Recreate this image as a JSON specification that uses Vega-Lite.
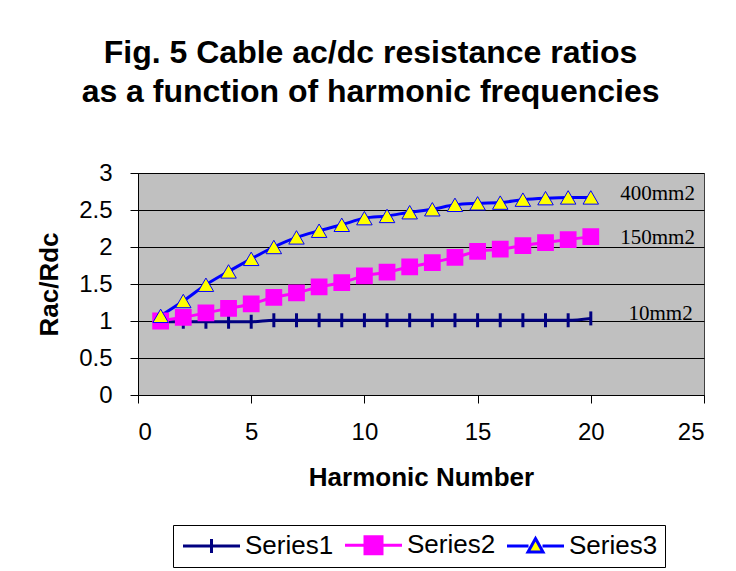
{
  "$schema": "https://vega.github.io/schema/vega-lite/v6.json",
  "autosize": "none",
  "width": 566,
  "height": 222,
  "padding": {"left": 138, "top": 173, "right": 32, "bottom": 176},
  "background": "white",
  "title": {
    "text": ["Fig. 5 Cable ac/dc resistance ratios", "as a function of harmonic frequencies"],
    "font": "Liberation Sans",
    "fontSize": 32,
    "fontWeight": "bold",
    "lineHeight": 39,
    "color": "black",
    "anchor": "middle",
    "frame": "bounds",
    "offset": 52
  },
  "datasets": {
    "series": [
      {"series": "Series1", "x": 1, "y": 0.99}, {"series": "Series1", "x": 2, "y": 0.99}, {"series": "Series1", "x": 3, "y": 0.99}, {"series": "Series1", "x": 4, "y": 0.99}, {"series": "Series1", "x": 5, "y": 0.99},
      {"series": "Series1", "x": 6, "y": 1.01}, {"series": "Series1", "x": 7, "y": 1.01}, {"series": "Series1", "x": 8, "y": 1.01}, {"series": "Series1", "x": 9, "y": 1.01}, {"series": "Series1", "x": 10, "y": 1.01},
      {"series": "Series1", "x": 11, "y": 1.01}, {"series": "Series1", "x": 12, "y": 1.01}, {"series": "Series1", "x": 13, "y": 1.01}, {"series": "Series1", "x": 14, "y": 1.01}, {"series": "Series1", "x": 15, "y": 1.01},
      {"series": "Series1", "x": 16, "y": 1.01}, {"series": "Series1", "x": 17, "y": 1.01}, {"series": "Series1", "x": 18, "y": 1.01}, {"series": "Series1", "x": 19, "y": 1.01}, {"series": "Series1", "x": 20, "y": 1.035},
      {"series": "Series2", "x": 1, "y": 1.0}, {"series": "Series2", "x": 2, "y": 1.05}, {"series": "Series2", "x": 3, "y": 1.11}, {"series": "Series2", "x": 4, "y": 1.17}, {"series": "Series2", "x": 5, "y": 1.23},
      {"series": "Series2", "x": 6, "y": 1.32}, {"series": "Series2", "x": 7, "y": 1.38}, {"series": "Series2", "x": 8, "y": 1.46}, {"series": "Series2", "x": 9, "y": 1.52}, {"series": "Series2", "x": 10, "y": 1.61},
      {"series": "Series2", "x": 11, "y": 1.66}, {"series": "Series2", "x": 12, "y": 1.73}, {"series": "Series2", "x": 13, "y": 1.79}, {"series": "Series2", "x": 14, "y": 1.86}, {"series": "Series2", "x": 15, "y": 1.94},
      {"series": "Series2", "x": 16, "y": 1.97}, {"series": "Series2", "x": 17, "y": 2.02}, {"series": "Series2", "x": 18, "y": 2.06}, {"series": "Series2", "x": 19, "y": 2.10}, {"series": "Series2", "x": 20, "y": 2.14},
      {"series": "Series3", "x": 1, "y": 1.07}, {"series": "Series3", "x": 2, "y": 1.27}, {"series": "Series3", "x": 3, "y": 1.49}, {"series": "Series3", "x": 4, "y": 1.67}, {"series": "Series3", "x": 5, "y": 1.84},
      {"series": "Series3", "x": 6, "y": 2.0}, {"series": "Series3", "x": 7, "y": 2.13}, {"series": "Series3", "x": 8, "y": 2.22}, {"series": "Series3", "x": 9, "y": 2.30}, {"series": "Series3", "x": 10, "y": 2.39},
      {"series": "Series3", "x": 11, "y": 2.42}, {"series": "Series3", "x": 12, "y": 2.47}, {"series": "Series3", "x": 13, "y": 2.51}, {"series": "Series3", "x": 14, "y": 2.57}, {"series": "Series3", "x": 15, "y": 2.59},
      {"series": "Series3", "x": 16, "y": 2.60}, {"series": "Series3", "x": 17, "y": 2.64}, {"series": "Series3", "x": 18, "y": 2.66}, {"series": "Series3", "x": 19, "y": 2.67}, {"series": "Series3", "x": 20, "y": 2.67}
    ],
    "labels": [
      {"label": "400mm2", "x": 24.6, "y": 2.72},
      {"label": "150mm2", "x": 24.6, "y": 2.12},
      {"label": "10mm2", "x": 24.5, "y": 1.09}
    ]
  },
  "config": {
    "view": {"fill": "#C0C0C0", "stroke": "#404040", "strokeWidth": 1},
    "axis": {
      "labelFont": "Liberation Sans",
      "labelFontSize": 24,
      "labelColor": "black",
      "labelOverlap": false,
      "titleFont": "Liberation Sans",
      "titleFontSize": 26,
      "titleFontWeight": "bold",
      "titleColor": "black",
      "domainColor": "black",
      "domainWidth": 1,
      "tickColor": "black",
      "tickWidth": 1,
      "tickSize": 8
    }
  },
  "encoding": {
    "x": {
      "field": "x", "type": "quantitative",
      "scale": {"domain": [0, 25], "nice": false, "zero": false},
      "axis": {"values": [0, 5, 10, 15, 20, 25], "format": "~g", "grid": false, "title": "Harmonic Number", "labelPadding": 17, "titlePadding": 20}
    },
    "y": {
      "field": "y", "type": "quantitative",
      "scale": {"domain": [0, 3], "nice": false},
      "axis": {"values": [0, 0.5, 1, 1.5, 2, 2.5, 3], "format": "~g", "grid": true, "gridColor": "black", "gridWidth": 1, "gridOpacity": 1, "title": "Rac/Rdc", "labelPadding": 18, "titlePadding": 16}
    }
  },
  "resolve": {"scale": {"shape": "independent", "fill": "independent", "stroke": "independent"}},
  "layer": [
    {
      "data": {"name": "series"},
      "mark": {"type": "line", "strokeWidth": 3, "interpolate": "monotone"},
      "encoding": {
        "color": {
          "field": "series", "type": "nominal",
          "scale": {"domain": ["Series1", "Series2", "Series3"], "range": ["#000080", "#FF00FF", "#0000FF"]},
          "legend": null
        }
      }
    },
    {
      "data": {"name": "series"},
      "mark": {"type": "point", "filled": false, "opacity": 1, "fillOpacity": 1},
      "encoding": {
        "shape": {
          "field": "series", "type": "nominal",
          "scale": {"domain": ["Series1", "Series2", "Series3"], "range": ["M0,-1V1", "square", "triangle-up"]},
          "legend": null
        },
        "fill": {
          "field": "series", "type": "nominal",
          "scale": {"domain": ["Series1", "Series2", "Series3"], "range": ["#000080", "#FF00FF", "#FFFF00"]},
          "legend": null
        },
        "stroke": {
          "field": "series", "type": "nominal",
          "scale": {"domain": ["Series1", "Series2", "Series3"], "range": ["#000080", "#FF00FF", "#0000FF"]},
          "legend": null
        },
        "size": {
          "field": "series", "type": "nominal",
          "scale": {"domain": ["Series1", "Series2", "Series3"], "range": [196, 240, 200]},
          "legend": null
        },
        "strokeWidth": {
          "field": "series", "type": "nominal",
          "scale": {"domain": ["Series1", "Series2", "Series3"], "range": [3, 1, 2.5]},
          "legend": null
        }
      }
    },
    {
      "data": {"name": "labels"},
      "mark": {"type": "text", "align": "right", "baseline": "middle", "font": "Liberation Serif", "fontSize": 21, "color": "black"},
      "encoding": {
        "text": {"field": "label"}
      }
    },
    {
      "data": {"name": "series"},
      "transform": [{"filter": "datum.x > 100"}],
      "mark": {"type": "point", "filled": true, "opacity": 1, "size": 400, "strokeWidth": 3},
      "encoding": {
        "shape": {
          "field": "series", "type": "nominal",
          "scale": {"domain": ["Series1", "Series2", "Series3"], "range": ["M-1,0H4.7M1.85,-0.7V0.7", "M-1,0H4.7M1,-0.85H2.7V0.85H1Z", "M-1,0H1.15M2.55,0H4.7M1.85,-0.75L2.6,0.6H1.1Z"]},
          "legend": {
            "orient": "none",
            "direction": "horizontal",
            "legendX": 35,
            "legendY": 352,
            "title": null,
            "strokeColor": "black",
            "padding": 7,
            "labelFont": "Liberation Sans",
            "labelFontSize": 26,
            "labelColor": "black",
            "labelOffset": 39,
            "columnPadding": 5,
            "symbolSize": 400,
            "symbolStrokeWidth": 3,
            "symbolOpacity": 1
          }
        },
        "fill": {
          "field": "series", "type": "nominal",
          "scale": {"domain": ["Series1", "Series2", "Series3"], "range": ["transparent", "#FF00FF", "#FFFF00"]}
        },
        "stroke": {
          "field": "series", "type": "nominal",
          "scale": {"domain": ["Series1", "Series2", "Series3"], "range": ["#000080", "#FF00FF", "#0000FF"]}
        }
      }
    }
  ]
}
